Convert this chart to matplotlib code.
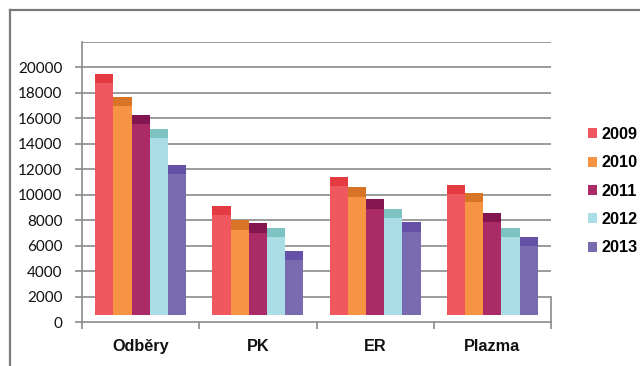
import matplotlib
matplotlib.use("Agg")
import matplotlib.pyplot as plt
from matplotlib.patches import Patch
from matplotlib.lines import Line2D
import numpy as np

categories = ["Odběry", "PK", "ER", "Plazma"]
years = ["2009", "2010", "2011", "2012", "2013"]
values_2009 = [19500, 9150, 11400, 10800]
values_2010 = [17700, 8000, 10600, 10150]
values_2011 = [16300, 7750, 9650, 8600]
values_2012 = [15200, 7400, 8900, 7400]
values_2013 = [12350, 5600, 7850, 6700]
series = [values_2009, values_2010, values_2011, values_2012, values_2013]

face_colors = ["#F05860", "#F79443", "#AA2B66", "#ABDDE6", "#7A6AB0"]
cap_colors = ["#E43A42", "#D87428", "#831650", "#7DC3C1", "#6450A6"]

y_ticks = list(range(0, 20001, 2000))
y_top = 22000
base = 550        # front faces start slightly above the floor
cap_depth = 740   # depth of the darker top face

fig = plt.figure(figsize=(6.4, 3.66), dpi=100)

# outer chart border (left and top edges)
fig.add_artist(Line2D([10 / 640, 10 / 640], [0, 1 - 10 / 366],
                      transform=fig.transFigure, color="#7a7a7a", lw=1.6))
fig.add_artist(Line2D([10 / 640, 1], [1 - 10 / 366, 1 - 10 / 366],
                      transform=fig.transFigure, color="#7a7a7a", lw=1.6))

ax = fig.add_axes([82 / 640, 44 / 366, 469 / 640, 280 / 366])
ax.set_xlim(-0.5, len(categories) - 0.5)
ax.set_ylim(0, y_top)

grid_color = "#8a8a8a"
for v in y_ticks[1:] + [y_top]:
    ax.axhline(v, color=grid_color, lw=1.2, zorder=1)
# right edge of the floor section
ax.plot([len(categories) - 0.5] * 2, [0, 2000], color=grid_color, lw=1.2,
        zorder=1, clip_on=False)

x = np.arange(len(categories))
width = 0.155
for i, (vals, fc, cc) in enumerate(zip(series, face_colors, cap_colors)):
    xs = x + (i - 2) * width
    vals = np.array(vals)
    ax.bar(xs, vals - base, bottom=base, width=width, color=fc,
           edgecolor="none", zorder=3)
    ax.bar(xs, np.full(len(vals), cap_depth), bottom=vals - cap_depth,
           width=width, color=cc, edgecolor="none", zorder=4)

for s in ["top", "right"]:
    ax.spines[s].set_visible(False)
for s in ["left", "bottom"]:
    ax.spines[s].set_color(grid_color)
    ax.spines[s].set_linewidth(1.2)

ax.set_yticks(y_ticks)
ax.set_yticklabels([str(v) for v in y_ticks], fontfamily="Lato", fontsize=11,
                   color="#111111")
ax.tick_params(axis="y", length=5, width=1.2, color=grid_color, pad=9)

ax.set_xticks(x)
ax.set_xticklabels(categories, fontfamily="Liberation Sans", fontweight="bold",
                   fontsize=11.7, color="#111111")
ax.tick_params(axis="x", which="major", length=0, pad=12)
ax.set_xticks(np.arange(-0.5, len(categories), 1.0), minor=True)
ax.tick_params(axis="x", which="minor", length=5, width=1.2, color=grid_color)

handles = [Patch(facecolor=c, edgecolor="none") for c in face_colors]
leg = fig.legend(handles, years, loc="upper left",
                 bbox_to_anchor=(580 / 640, 1 - 119 / 366),
                 frameon=False, handlelength=0.55, handleheight=0.55,
                 handletextpad=0.3, labelspacing=0.82, borderpad=0,
                 prop={"family": "Liberation Sans", "weight": "bold", "size": 11.7})

fig.savefig("out.png", dpi=100)
